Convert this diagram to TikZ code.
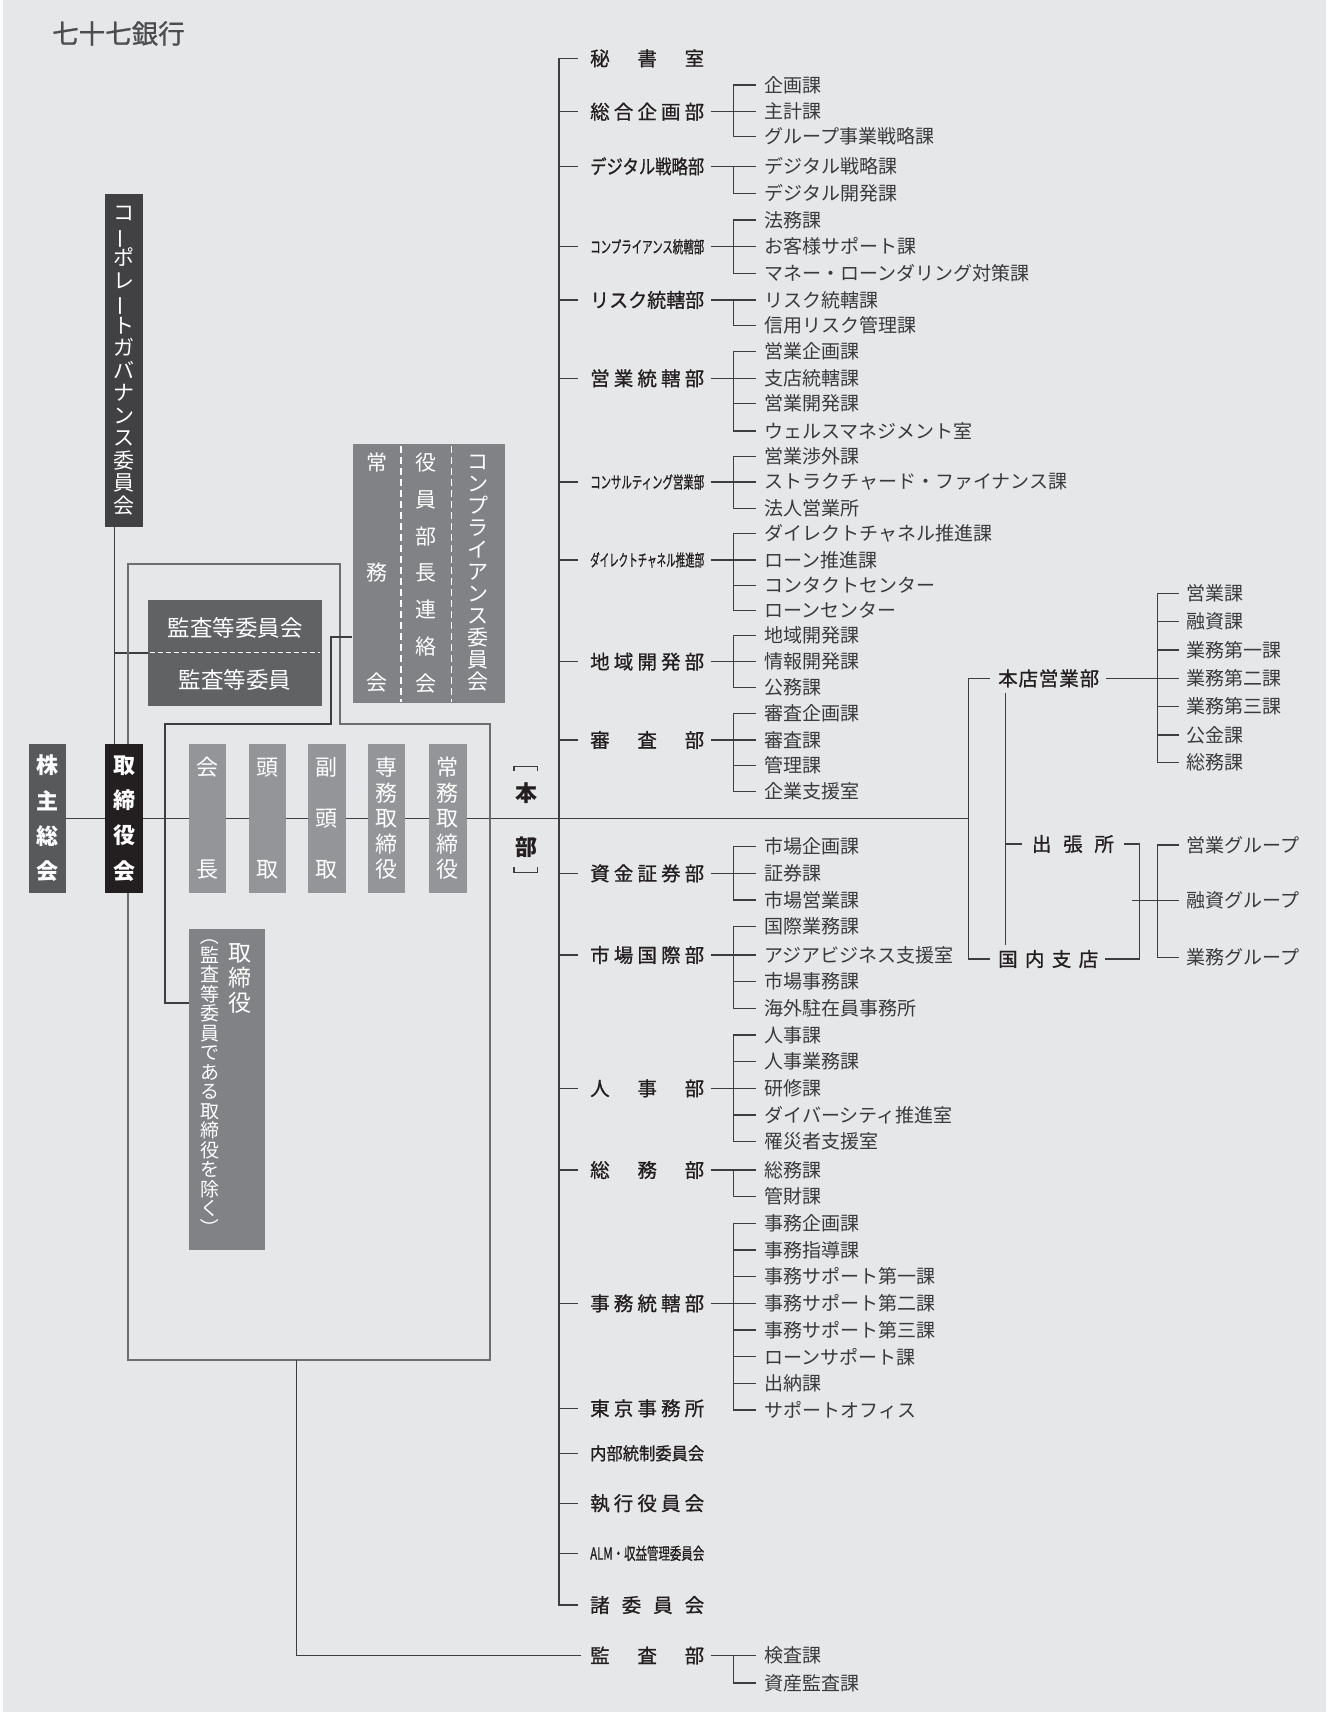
\documentclass[tikz,border=0pt]{standalone}
\usepackage{fontspec}
\usepackage{graphicx}
\setmainfont{Noto Sans CJK JP}
\newfontfamily\deptfont[FakeBold=0.9]{Noto Sans CJK JP}
\usetikzlibrary{calc}
\definecolor{bgc}{HTML}{E6E7E8}
\definecolor{lnc}{HTML}{3E3E40}
\definecolor{frc}{HTML}{6D6E71}
\definecolor{itc}{HTML}{3A3A3C}
\definecolor{dpc}{HTML}{231F20}
\definecolor{ttc}{HTML}{4D4D4F}
\definecolor{cgcc}{HTML}{414042}
\definecolor{kbc}{HTML}{58595B}
\definecolor{tric}{HTML}{231F20}
\definecolor{ksc}{HTML}{616264}
\definecolor{compc}{HTML}{808285}
\definecolor{ofc}{HTML}{939598}
\pgfdeclarelayer{bgl}
\pgfsetlayers{bgl,main}
\newcommand\spr[2]{\makebox[#1pt][s]{#2}}
\newcommand\fitw[2]{\resizebox{114pt}{#1\height}{#2}}
\newcommand\vbar{\smash{\rotatebox[origin=c]{90}{ー}}}
\newcommand\vlp{\smash{\rotatebox[origin=c]{-90}{（}}}
\newcommand\vrp{\smash{\rotatebox[origin=c]{-90}{）}}}
% #1 bracket coord, #2 text x, #3 tick gap, #4 parent node, #5 prefix, #6 count, #7 list
\newcommand\grp[7]{%
  \foreach \tx/\yy [count=\i] in {#7}{
    \node[item] (#5-\i) at (#2,\yy) {\tx};
  }
  \begin{pgfonlayer}{bgl}
  \foreach \i in {1,...,#6}{\draw[ln] (#1 |- #5-\i.west) -- ([xshift=-#3]#5-\i.west);}
  \draw[ln] (#1 |- #5-1.west) -- (#1 |- #5-#6.west);
  \draw[ln] ([xshift=7pt]#4.east) -- (#1 |- #4.east);
  \end{pgfonlayer}
}
\begin{document}
\begin{tikzpicture}[x=1pt,y=-1pt,
  ln/.style={draw=lnc, line width=1.4pt},
  fr/.style={draw=frc, line width=2.2pt},
  item/.style={anchor=west, inner sep=0pt, text=itc, font=\fontsize{19}{22}\selectfont},
  dept/.style={anchor=west, inner sep=0pt, text=dpc, font=\deptfont\fontsize{19.5}{22}\selectfont},
  wtxt/.style={text=white, inner sep=0pt, align=center},
  box/.style={inner sep=0pt, draw=none}]
\begin{pgfonlayer}{bgl}
\fill[white] (0,0) rectangle (1331,1712);
\fill[bgc] (3,0) rectangle (1326,1712);
\end{pgfonlayer}
\useasboundingbox (0,0) rectangle (1331,1712);

% title
\node[anchor=west, inner sep=0pt, text=ttc, font=\deptfont\fontsize{26.5}{30}\selectfont] (title) at (52,33.5) {七十七銀行};

% ---------- left boxes ----------
\node[box, fill=cgcc, minimum width=37.5pt, minimum height=333pt, wtxt, font=\fontsize{21}{22.5}\selectfont] (cgc) at (124.1,360.5)
  {コ\\\vbar\\ポ\\レ\\\vbar\\ト\\ガ\\バ\\ナ\\ン\\ス\\委\\員\\会};

\node[box, fill=compc, minimum width=152pt, minimum height=259.3pt] (comp) at (428.5,573.6) {};
\node[wtxt, font=\fontsize{21}{110}\selectfont] (jomu) at (376.7,573) {常\\務\\会};
\node[wtxt, font=\fontsize{21}{36.7}\selectfont] (yakuin) at (426.4,573) {役\\員\\部\\長\\連\\絡\\会};
\node[wtxt, font=\fontsize{21}{22}\selectfont] (compl) at (478.2,573) {コ\\ン\\プ\\ラ\\イ\\ア\\ン\\ス\\委\\員\\会};
\draw[white, line width=1.3pt, dash pattern=on 7pt off 4pt] (401,446) -- (401,702);
\draw[white, line width=1.3pt, dash pattern=on 7pt off 4pt] (451.8,446) -- (451.8,702);

\node[box, fill=ksc, minimum width=174pt, minimum height=106pt] (kansa) at (235,653) {};
\node[wtxt, font=\fontsize{22.5}{24}\selectfont] (ks1) at (235,628) {監査等委員会};
\node[wtxt, font=\fontsize{22.5}{24}\selectfont] (ks2) at (235,680) {監査等委員};
\draw[white, line width=1.3pt, dash pattern=on 5pt off 3pt] (150,652.7) -- (320,652.7);

\node[box, fill=kbc, minimum width=37.4pt, minimum height=149pt, wtxt, font=\bfseries\fontsize{22}{35.3}\selectfont] (kabu) at (47.3,818.5) {株\\主\\総\\会};
\node[box, fill=tric, minimum width=37.5pt, minimum height=149pt, wtxt, font=\bfseries\fontsize{22}{35.3}\selectfont] (tori) at (124.1,818.5) {取\\締\\役\\会};

\node[box, fill=ofc, minimum width=37.4pt, minimum height=149pt, wtxt, font=\fontsize{22}{102}\selectfont] (o1) at (207.7,818.5) {会\\長};
\node[box, fill=ofc, minimum width=37.4pt, minimum height=149pt, wtxt, font=\fontsize{22}{102}\selectfont] (o2) at (267.3,818.5) {頭\\取};
\node[box, fill=ofc, minimum width=37.8pt, minimum height=149pt, wtxt, font=\fontsize{22}{51}\selectfont] (o3) at (326.8,818.5) {副\\頭\\取};
\node[box, fill=ofc, minimum width=37.5pt, minimum height=149pt, wtxt, font=\fontsize{22}{25.5}\selectfont] (o4) at (386.6,818.5) {専\\務\\取\\締\\役};
\node[box, fill=ofc, minimum width=37.8pt, minimum height=149pt, wtxt, font=\fontsize{22}{25.5}\selectfont] (o5) at (447.9,818.5) {常\\務\\取\\締\\役};

\node[inner sep=0pt, align=center, text=dpc, font=\bfseries\fontsize{22}{53.7}\selectfont] (honbu) at (526,820) {本\\部};
\draw[lnc, line width=1.2pt] (514,771) -- (514,766.7) -- (537.3,766.7) -- (537.3,771);
\draw[lnc, line width=1.2pt] (514,867) -- (514,872.3) -- (537.3,872.3) -- (537.3,867);

\node[box, fill=compc, minimum width=76pt, minimum height=321pt] (tbox) at (227,1089.5) {};
\node[wtxt, font=\fontsize{23}{25}\selectfont] (tb1) at (240,978) {取\\締\\役};
\node[wtxt, font=\fontsize{19}{19.5}\selectfont] (tb2) at (210,1089) {\vlp\\監\\査\\等\\委\\員\\で\\あ\\る\\取\\締\\役\\を\\除\\く\\\vrp};

% ---------- departments ----------
\coordinate (tr) at (559,0);
\coordinate (bx) at (733.2,0);
\node[dept] (d1) at (590,58.3) {\spr{114}{秘\hfill 書\hfill 室}};
\node[dept] (d2) at (590,111.7) {\spr{114}{総\hfill 合\hfill 企\hfill 画\hfill 部}};
\node[dept] (d3) at (590,166.3) {\fitw{1}{デジタル戦略部}};
\node[dept] (d4) at (590,246.7) {\fitw{0.85}{コンプライアンス統轄部}};
\node[dept] (d5) at (590,300) {\fitw{1}{リスク統轄部}};
\node[dept] (d6) at (590,378.3) {\spr{114}{営\hfill 業\hfill 統\hfill 轄\hfill 部}};
\node[dept] (d7) at (590,482) {\fitw{0.85}{コンサルティング営業部}};
\node[dept] (d8) at (590,560) {\fitw{0.85}{ダイレクトチャネル推進部}};
\node[dept] (d9) at (590,661.7) {\spr{114}{地\hfill 域\hfill 開\hfill 発\hfill 部}};
\node[dept] (d10) at (590,740) {\spr{114}{審\hfill 査\hfill 部}};
\node[dept] (d11) at (590,873.3) {\spr{114}{資\hfill 金\hfill 証\hfill 券\hfill 部}};
\node[dept] (d12) at (590,955) {\spr{114}{市\hfill 場\hfill 国\hfill 際\hfill 部}};
\node[dept] (d13) at (590,1088.3) {\spr{114}{人\hfill 事\hfill 部}};
\node[dept] (d14) at (590,1170) {\spr{114}{総\hfill 務\hfill 部}};
\node[dept] (d15) at (590,1303.3) {\spr{114}{事\hfill 務\hfill 統\hfill 轄\hfill 部}};
\node[dept] (d16) at (590,1408.3) {\spr{114}{東\hfill 京\hfill 事\hfill 務\hfill 所}};
\node[dept] (d17) at (590,1453.3) {\fitw{0.9}{内部統制委員会}};
\node[dept] (d18) at (590,1503.3) {\spr{114}{執\hfill 行\hfill 役\hfill 員\hfill 会}};
\node[dept] (d19) at (590,1553.3) {\fitw{0.85}{ALM・収益管理委員会}};
\node[dept] (d20) at (590,1605) {\spr{114}{諸\hfill 委\hfill 員\hfill 会}};
\node[dept] (d21) at (590,1655.5) {\spr{114}{監\hfill 査\hfill 部}};

\grp{bx}{764.3}{8.3pt}{d2}{g2}{3}{企画課/85,主計課/111.7,グループ事業戦略課/136.7}
\grp{bx}{764.3}{8.3pt}{d3}{g3}{2}{デジタル戦略課/166.3,デジタル開発課/193.3}
\grp{bx}{764.3}{8.3pt}{d4}{g4}{3}{法務課/220,お客様サポート課/246.7,マネー・ローンダリング対策課/273.3}
\grp{bx}{764.3}{8.3pt}{d5}{g5}{2}{リスク統轄課/300,信用リスク管理課/325.5}
\grp{bx}{764.3}{8.3pt}{d6}{g6}{4}{営業企画課/351.7,支店統轄課/378.3,営業開発課/403.5,ウェルスマネジメント室/431}
\grp{bx}{764.3}{8.3pt}{d7}{g7}{3}{営業渉外課/456.7,ストラクチャード・ファイナンス課/482,法人営業所/508.3}
\grp{bx}{764.3}{8.3pt}{d8}{g8}{4}{ダイレクトチャネル推進課/533.5,ローン推進課/560,コンタクトセンター/585.5,ローンセンター/610.5}
\grp{bx}{764.3}{8.3pt}{d9}{g9}{3}{地域開発課/635.5,情報開発課/661.7,公務課/687.5}
\grp{bx}{764.3}{8.3pt}{d10}{g10}{4}{審査企画課/713.5,審査課/740,管理課/765.5,企業支援室/791.7}
\grp{bx}{764.3}{8.3pt}{d11}{g11}{3}{市場企画課/846.7,証券課/873.3,市場営業課/900}
\grp{bx}{764.3}{8.3pt}{d12}{g12}{4}{国際業務課/926.7,アジアビジネス支援室/955,市場事務課/981.7,海外駐在員事務所/1008.3}
\grp{bx}{764.3}{8.3pt}{d13}{g13}{5}{人事課/1035,人事業務課/1061.7,研修課/1088.3,ダイバーシティ推進室/1115,罹災者支援室/1141.7}
\grp{bx}{764.3}{8.3pt}{d14}{g14}{2}{総務課/1170,管財課/1196.7}
\grp{bx}{764.3}{8.3pt}{d15}{g15}{8}{事務企画課/1223.3,事務指導課/1250,事務サポート第一課/1276.7,事務サポート第二課/1303.3,事務サポート第三課/1330,ローンサポート課/1356.7,出納課/1383.3,サポートオフィス/1410}
\grp{bx}{764.3}{8.3pt}{d21}{g21}{2}{検査課/1655.5,資産監査課/1683}

% ---------- branch section ----------
\coordinate (jx) at (968.4,0);
\coordinate (iv) at (1005.7,0);
\coordinate (c2) at (1139.3,0);
\coordinate (bx2) at (1157.3,0);
\coordinate (c2m) at (1132.3,900.7);
\node[dept] (honten) at (998,678.3) {\spr{101}{本\hfill 店\hfill 営\hfill 業\hfill 部}};
\node[dept] (kokunai) at (998,959) {\spr{100}{国\hfill 内\hfill 支\hfill 店}};
\node[dept] (shutcho) at (1031.7,844) {\spr{82}{出\hfill 張\hfill 所}};
\grp{bx2}{1186}{7pt}{honten}{hb}{7}{営業課/593.3,融資課/621.7,業務第一課/650,業務第二課/678.3,業務第三課/706.7,公金課/735,総務課/762.7}
\grp{bx2}{1186}{7pt}{c2m}{sg}{3}{営業グループ/845,融資グループ/900.7,業務グループ/957.3}

% ---------- connectors ----------
\begin{pgfonlayer}{bgl}
% trunk
\draw[ln] ([xshift=-12.5pt]d1.west) -- (tr |- d1.west) -- (tr |- d20.west) -- ([xshift=-12.5pt]d20.west);
\foreach \k in {2,...,19}{\draw[ln] (tr |- d\k.west) -- ([xshift=-12.5pt]d\k.west);}
% main horizontal
\draw[ln] (kabu.east) -- (jx |- kabu.east);
% honten / kokunai
\draw[ln] ([xshift=-8pt]honten.west) -- (jx |- honten.west) -- (jx |- kokunai.west) -- ([xshift=-8pt]kokunai.west);
\draw[ln] ([xshift=7.7pt,yshift=-5pt]honten.south west) -- ([xshift=7.7pt,yshift=5pt]kokunai.north west);
\draw[ln] (iv |- shutcho.west) -- ([xshift=-10pt]shutcho.west);
\draw[ln] ([xshift=9.4pt]shutcho.east) -- (c2 |- shutcho.east) -- (c2 |- kokunai.east) -- ([xshift=7pt]kokunai.east);
\draw[ln] (c2 |- c2m) -- (c2m);
% corporate governance committee
\draw[ln] ([xshift=-9.8pt]cgc.south) -- ([xshift=-9.8pt]cgc.south |- tori.north);
\draw[ln] ([xshift=-9.8pt]cgc.south |- kansa.west) -- (kansa.west);
% outer frame
\coordinate (fa) at (340,564);
\coordinate (fb) at (490,724);
\coordinate (fc) at (296.4,1360);
\draw[fr] ([xshift=3.9pt]tori.north) |- (fa) |- (fb) |- (fc) -| ([xshift=3.9pt]tori.south);
% audit department
\draw[ln] (fc) |- ([xshift=-9pt]d21.west);
% inner connector
\coordinate (ia) at (331,637);
\coordinate (ib) at (165,724);
\draw[ln] (comp.west |- ia) -- (ia) |- (ib) |- (tbox.west |- 0,1003);
\end{pgfonlayer}
\end{tikzpicture}
\end{document}
